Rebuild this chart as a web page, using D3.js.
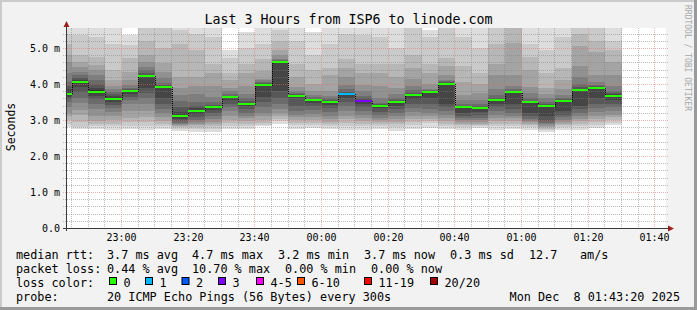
<!DOCTYPE html>
<html><head><meta charset="utf-8">
<script src="https://cdn.jsdelivr.net/npm/d3@7"></script>
<style>html,body{margin:0;padding:0;background:#f2f2f2}svg{display:block}text{font-family:"DejaVu Sans Mono",monospace;white-space:pre}</style>
</head><body><svg id="c" width="697" height="310"></svg>
<script>
// ---------- data ----------
const title = "Last 3 Hours from ISP6 to linode.com";
const yTicks = [0, 1, 2, 3, 4, 5];
const yTickLabels = ["0.0", "1.0 m", "2.0 m", "3.0 m", "4.0 m", "5.0 m"];
const xTickLabels = ["23:00", "23:20", "23:40", "00:00", "00:20", "00:40", "01:00", "01:20", "01:40"];
const windowStart = "2025-12-07T22:43:20";
const windowEnd = "2025-12-08T01:43:20";
const firstBarEnd = "2025-12-07T22:45:00";
const stepMinutes = 5;
// median rtt per 5-minute step (ms)
const medians = [3.73, 4.06, 3.79, 3.59, 3.81, 4.23, 3.93, 3.11, 3.26, 3.36, 3.64, 3.45, 3.98, 4.61, 3.68, 3.56, 3.51,
  3.73, 3.53, 3.40, 3.50, 3.69, 3.77, 4.01, 3.37, 3.33, 3.56, 3.77, 3.49, 3.40, 3.54, 3.84, 3.90, 3.68];
// lost pings (out of 20) per step
const loss = [0,0,0,0,0,0,0,0,0,0,0,0,0,0,0,0,0, 1,3, 0,0,0,0,0,0,0,0,0,0,0,0,0,0,0];
// 20 sorted ping times per step (ms) -> smoke
const pings = [
  [2.80,2.88,3.00,3.10,3.20,3.35,3.50,3.58,3.64,3.70,3.76,3.85,3.95,4.05,4.30,4.60,4.80,5.10,5.40,5.80],
  [2.75,2.81,2.95,3.14,3.28,3.46,3.60,3.79,3.93,4.02,4.08,4.11,4.17,4.25,4.34,4.48,4.62,4.81,5.36,5.90],
  [2.76,2.82,2.90,2.98,3.10,3.30,3.45,3.57,3.68,3.76,3.82,3.90,4.00,4.12,4.25,4.40,4.53,4.76,5.30,5.80],
  [2.72,2.82,2.90,3.00,3.12,3.23,3.33,3.42,3.50,3.57,3.61,3.66,3.72,3.78,3.85,3.95,4.10,4.40,5.10,5.75],
  [2.75,2.82,2.95,3.06,3.25,3.45,3.55,3.63,3.72,3.79,3.82,3.83,3.85,3.90,3.97,4.10,4.34,4.71,5.08,5.36],
  [2.72,2.82,2.95,3.07,3.25,3.45,3.62,3.75,3.88,4.22,4.24,4.26,4.30,4.38,4.48,4.62,4.81,5.20,5.70,6.00],
  [2.76,2.82,2.90,2.98,3.07,3.19,3.30,3.45,3.60,3.92,3.94,3.95,3.97,4.02,4.16,4.34,4.58,5.00,5.70,5.90],
  [2.70,2.76,2.80,2.84,2.87,2.90,2.93,2.97,3.02,3.08,3.14,3.23,3.35,3.52,3.70,3.90,4.20,5.10,5.50,5.80],
  [2.68,2.74,2.80,2.86,2.90,2.95,3.00,3.08,3.16,3.24,3.28,3.33,3.39,3.50,3.72,3.95,4.20,4.95,5.40,5.70],
  [2.68,2.76,2.82,2.88,2.95,3.02,3.10,3.20,3.28,3.35,3.37,3.39,3.43,3.50,3.65,3.95,4.30,4.55,5.30,5.70],
  [2.76,2.84,2.92,3.00,3.12,3.25,3.35,3.45,3.56,3.63,3.65,3.66,3.68,3.73,3.80,3.90,4.10,4.30,4.71,4.95],
  [2.76,2.83,2.90,2.97,3.05,3.12,3.20,3.30,3.38,3.44,3.46,3.48,3.52,3.60,3.72,3.95,4.30,4.55,5.00,5.45],
  [2.82,2.87,2.93,3.00,3.10,3.20,3.35,3.50,3.65,3.97,3.99,4.00,4.02,4.05,4.10,4.15,4.35,4.70,5.10,5.70],
  [2.90,2.97,3.02,3.10,3.20,3.30,3.45,3.60,3.80,4.60,4.62,4.63,4.64,4.66,4.70,4.80,4.95,5.20,5.50,5.90],
  [2.75,2.85,2.93,3.00,3.08,3.15,3.25,3.40,3.60,3.67,3.69,3.70,3.71,3.74,3.80,3.92,4.20,4.55,5.20,5.80],
  [2.78,2.85,2.92,3.00,3.08,3.18,3.28,3.40,3.48,3.55,3.57,3.58,3.59,3.63,3.70,3.80,4.00,4.40,4.81,5.45],
  [2.75,2.82,2.88,2.95,3.03,3.12,3.22,3.32,3.42,3.50,3.52,3.53,3.56,3.60,3.67,3.80,4.25,4.45,5.10,5.60],
  [2.72,2.84,2.92,3.02,3.12,3.25,3.38,3.50,3.62,3.72,3.74,3.76,3.79,3.85,3.97,4.20,4.45,4.70,5.40,5.80],
  [2.72,2.83,2.90,2.98,3.06,3.15,3.25,3.35,3.45,3.52,3.54,3.56,3.60,3.68,3.80,3.97,4.30,4.55,5.35,5.70],
  [2.74,2.82,2.88,2.94,3.00,3.06,3.13,3.22,3.32,3.39,3.41,3.42,3.44,3.48,3.60,3.95,4.30,4.55,5.30,5.70],
  [2.70,2.80,2.88,2.95,3.03,3.10,3.20,3.30,3.40,3.50,3.51,3.52,3.55,3.60,3.72,3.90,4.20,4.55,5.00,5.80],
  [2.76,2.86,2.95,3.03,3.12,3.23,3.33,3.45,3.58,3.68,3.70,3.71,3.75,3.82,3.95,4.15,4.45,4.81,5.70,5.90],
  [2.78,2.92,2.97,3.02,3.10,3.20,3.30,3.45,3.60,3.76,3.78,3.79,3.80,3.82,3.85,4.00,4.30,4.55,5.30,5.50],
  [2.76,2.84,2.90,2.97,3.05,3.15,3.25,3.35,3.45,4.00,4.02,4.03,4.05,4.07,4.12,4.25,4.50,4.71,5.70,5.90],
  [2.72,2.80,2.85,2.90,2.95,3.00,3.05,3.12,3.20,3.36,3.38,3.39,3.40,3.45,3.55,3.70,4.05,4.50,5.30,5.70],
  [2.78,2.82,2.86,2.90,2.95,3.00,3.05,3.13,3.22,3.32,3.34,3.35,3.38,3.45,3.55,3.75,4.00,4.30,5.00,5.70],
  [2.72,2.82,2.90,2.98,3.06,3.15,3.25,3.35,3.45,3.55,3.57,3.58,3.62,3.70,3.85,4.25,4.55,5.10,5.70,5.90],
  [2.75,2.83,2.90,2.97,3.05,3.12,3.20,3.30,3.45,3.76,3.78,3.79,3.80,3.85,3.95,4.25,5.15,5.70,5.80,6.00],
  [2.72,2.80,2.85,2.90,2.94,2.98,3.04,3.10,3.20,3.48,3.50,3.51,3.54,3.60,3.75,3.92,4.40,4.76,5.10,5.80],
  [2.66,2.72,2.76,2.80,2.84,2.88,2.93,2.98,3.10,3.39,3.41,3.42,3.45,3.50,3.60,3.72,3.88,4.30,4.95,5.80],
  [2.72,2.80,2.85,2.90,2.95,3.00,3.07,3.15,3.25,3.53,3.55,3.56,3.58,3.62,3.70,3.85,4.10,4.45,5.30,5.80],
  [2.72,2.82,2.90,2.97,3.04,3.12,3.20,3.30,3.40,3.83,3.85,3.87,3.92,4.00,4.20,4.50,5.05,5.40,5.70,5.90],
  [2.78,2.87,2.95,3.02,3.12,3.22,3.32,3.45,3.60,3.89,3.91,3.92,3.94,3.98,4.05,4.25,4.90,5.20,5.60,5.90],
  [2.85,2.93,3.00,3.08,3.15,3.25,3.35,3.45,3.55,3.67,3.69,3.71,3.74,3.80,3.95,4.25,4.60,4.95,5.20,5.60]
];
const lossLabels = ["0", "1", "2", "3", "4-5", "6-10", "11-19", "20/20"];
const lossColors = ["#26ff00", "#00b8ff", "#0059ff", "#7e00ff", "#ff00ff", "#ff5500", "#ff0000", "#a00000"];
const statsRtt = ["median rtt:", "3.7 ms avg", "4.7 ms max", "3.2 ms min", "3.7 ms now", "0.3 ms sd", "12.7", "am/s"];
const statsLoss = ["packet loss:", "0.44 % avg", "10.70 % max", "0.00 % min", "0.00 % now"];
const probeText = ["probe:", "20 ICMP Echo Pings (56 Bytes) every 300s"];
const stampText = "Mon Dec  8 01:43:20 2025";
const watermark = "RRDTOOL / TOBI OETIKER";

// ---------- layout ----------
const W = 697, H = 310;
const X0 = 66, X1 = 666, Y0 = 228, Y1 = 28;
const svg = d3.select("#c");
const parse = d3.isoParse;
const x = d3.scaleTime().domain([parse(windowStart), parse(windowEnd)]).range([X0, X1]);
const y = d3.scaleLinear().domain([0, (Y0 - Y1) / 36]).range([Y0, Y1]);

// background and 3D frame
svg.append("rect").attr("width", W).attr("height", H).attr("fill", "#f2f2f2");
svg.append("rect").attr("x", 0).attr("y", 0).attr("width", W).attr("height", 2).attr("fill", "#cbcbcb");
svg.append("rect").attr("x", 0).attr("y", 0).attr("width", 2).attr("height", H).attr("fill", "#cbcbcb");
svg.append("rect").attr("x", 0).attr("y", H - 3).attr("width", W).attr("height", 3).attr("fill", "#9a9a9a");
svg.append("rect").attr("x", W - 3).attr("y", 0).attr("width", 3).attr("height", H).attr("fill", "#9a9a9a");

// canvas
svg.append("rect").attr("x", X0).attr("y", Y1).attr("width", X1 - X0).attr("height", Y0 - Y1).attr("fill", "#ffffff");
svg.append("clipPath").attr("id", "plot").append("rect")
  .attr("x", X0).attr("y", Y1).attr("width", X1 - X0).attr("height", Y0 - Y1);

// bars time extents
const stepMs = stepMinutes * 60000;
const barEnd = i => new Date(parse(firstBarEnd).getTime() + i * stepMs);
const barStart = i => new Date(barEnd(i).getTime() - stepMs);

// smoke
const smoke = svg.append("g").attr("clip-path", "url(#plot)").attr("shape-rendering", "crispEdges");
const half = 10;
pings.forEach((p, i) => {
  const xa = Math.round(x(barStart(i))), xb = Math.round(x(barEnd(i)));
  for (let ibot = 1; ibot <= half; ibot++) {
    const itop = p.length + 1 - ibot;
    const c = Math.floor(190 / half * (half - ibot)) + 50;
    const ya = Math.round(y(p[itop - 1])), yb = Math.round(y(p[ibot - 1]));
    smoke.append("rect").attr("x", xa).attr("width", xb - xa)
      .attr("y", ya).attr("height", Math.max(0, yb - ya))
      .attr("fill", d3.rgb(c, c, c).formatHex());
  }
});

// grid
const grid = svg.append("g").attr("fill", "none").attr("stroke-width", 1).attr("stroke-dasharray", "1,1");
const minorColor = "rgba(125,125,125,0.5)", majorColor = "rgba(230,110,110,0.5)";
const fx = v => Math.floor(v) + 0.5;
const minorT = d3.timeMinute.every(5).range(parse(windowStart), parse(windowEnd));
const majorT = d3.timeMinute.every(20).range(parse(windowStart), parse(windowEnd));
const majorSet = new Set(majorT.map(d => +d));
minorT.filter(d => !majorSet.has(+d)).forEach(d => {
  grid.append("line").attr("x1", fx(x(d))).attr("x2", fx(x(d))).attr("y1", Y1).attr("y2", Y0 + 2).attr("stroke", minorColor);
});
const yMinor = d3.range(1, Math.floor(y.domain()[1] * 5) + 1).map(k => k / 5).filter(v => Math.abs(v - Math.round(v)) > 1e-6);
yMinor.forEach(v => {
  const yy = Math.round(y(v)) + 0.5;
  grid.append("line").attr("x1", X0 - 3).attr("x2", X1 + 2).attr("y1", yy).attr("y2", yy).attr("stroke", minorColor);
});
majorT.forEach(d => {
  grid.append("line").attr("x1", fx(x(d))).attr("x2", fx(x(d))).attr("y1", Y1).attr("y2", Y0 + 2).attr("stroke", majorColor);
});
yTicks.filter(v => v > 0).forEach(v => {
  const yy = Math.round(y(v)) + 0.5;
  grid.append("line").attr("x1", X0 - 3).attr("x2", X1 + 2).attr("y1", yy).attr("y2", yy).attr("stroke", majorColor);
});

// median: dotted step connector + loss-coloured segments
const med = svg.append("g").attr("clip-path", "url(#plot)");
let path = "";
medians.forEach((m, i) => {
  const xa = Math.round(x(barStart(i))), xb = Math.round(x(barEnd(i)));
  const yy = Math.round(y(m));
  if (i === 0) path += `M${xa},${yy + 0.5}`;
  else path += `V${yy + 0.5}`;
  path += `H${xb + 0.5}`;
});
med.append("path").attr("d", path).attr("fill", "none").attr("stroke", "#000").attr("stroke-width", 1).attr("stroke-dasharray", "1,1");
const lossIdx = l => l === 0 ? 0 : l === 1 ? 1 : l === 2 ? 2 : l === 3 ? 3 : l <= 5 ? 4 : l <= 10 ? 5 : l <= 19 ? 6 : 7;
medians.forEach((m, i) => {
  const xa = Math.round(x(barStart(i))), xb = Math.round(x(barEnd(i)));
  const yy = Math.round(y(m));
  med.append("rect").attr("x", xa).attr("width", xb - xa).attr("y", yy - 1).attr("height", 2)
    .attr("fill", lossColors[lossIdx(loss[i])]).attr("shape-rendering", "crispEdges");
});

// axes
const axisColor = "#3a3a3a", arrowColor = "#9b2020";
svg.append("line").attr("x1", X0 - 3).attr("x2", X1 + 4).attr("y1", Y0 + 0.5).attr("y2", Y0 + 0.5).attr("stroke", axisColor);
svg.append("line").attr("x1", X0 + 0.5).attr("x2", X0 + 0.5).attr("y1", Y0 + 3).attr("y2", Y1 - 2).attr("stroke", axisColor);
svg.append("path").attr("d", `M${X0 + 0.5},${Y1 - 7} L${X0 - 2.5},${Y1 - 1} L${X0 + 3.5},${Y1 - 1} Z`).attr("fill", arrowColor);
svg.append("path").attr("d", `M${X1 + 8},${Y0 + 0.5} L${X1 + 2},${Y0 - 2.5} L${X1 + 2},${Y0 + 3.5} Z`).attr("fill", arrowColor);

// axis labels
const tl = svg.append("g").attr("fill", "#000");
yTicks.forEach((v, i) => {
  tl.append("text").attr("x", 60).attr("y", Math.round(y(v)) + 4).attr("text-anchor", "end")
    .attr("font-size", "10px").text(yTickLabels[i]);
});
majorT.forEach((d, i) => {
  tl.append("text").attr("x", fx(x(d))).attr("y", 241).attr("text-anchor", "middle")
    .attr("font-size", "10px").text(xTickLabels[i]);
});
tl.append("text").attr("x", W / 2).attr("y", 24).attr("text-anchor", "middle").attr("font-size", "13.3px").text(title);
tl.append("text").attr("transform", "translate(15,127) rotate(-90)").attr("text-anchor", "middle")
  .attr("font-size", "11.5px").text("Seconds");
svg.append("text").attr("transform", "translate(685,5) rotate(90)").attr("font-size", "8px")
  .attr("fill", "#a8a8a8").text(watermark);

// legend / stats
const fs = "11.8px";
const row = (arr, xs, yb) => arr.forEach((t, i) => tl.append("text").attr("x", xs[i]).attr("y", yb).attr("font-size", fs).text(t));
row(statsRtt, [16, 107, 192, 278, 364, 450, 529, 580], 258.5);
row(statsLoss, [16, 107, 192, 285, 371], 272.5);
tl.append("text").attr("x", 16).attr("y", 286.5).attr("font-size", fs).text("loss color:");
const swX = [109, 145, 181.5, 218, 256, 297, 364, 430];
lossLabels.forEach((l, i) => {
  svg.append("rect").attr("x", swX[i] + 0.5).attr("y", 277.5).attr("width", 7).attr("height", 7)
    .attr("fill", lossColors[i]).attr("stroke", "#000").attr("stroke-width", 1);
  tl.append("text").attr("x", swX[i] + 14.5).attr("y", 286.5).attr("font-size", fs).text(l);
});
row(probeText, [16, 107], 300.5);
tl.append("text").attr("x", 680).attr("y", 300.5).attr("text-anchor", "end").attr("font-size", fs).text(stampText);
</script></body></html>
